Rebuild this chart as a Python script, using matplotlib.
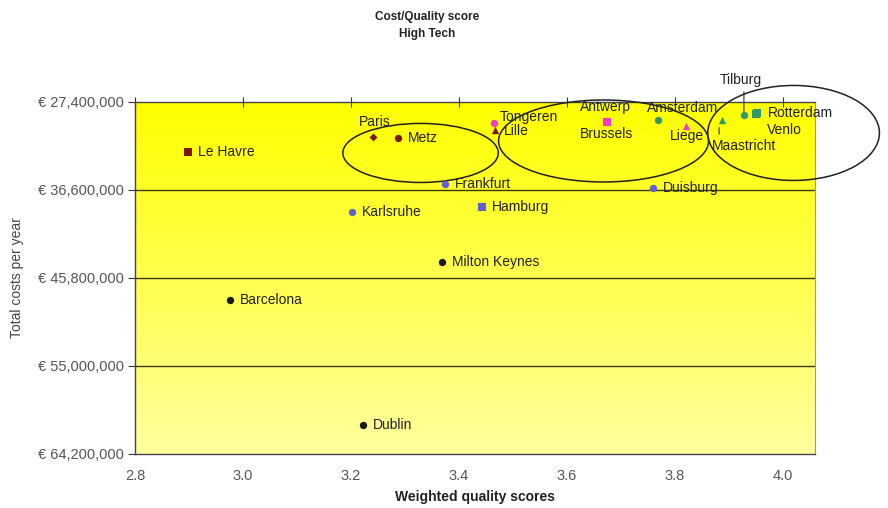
import numpy as np
import matplotlib.pyplot as plt
from matplotlib.patches import Ellipse
from matplotlib.ticker import FuncFormatter

plt.rcParams['font.family'] = ['Liberation Sans', 'DejaVu Sans']

# locations: quality score (x) and total yearly cost in millions of euro (y)
cities = ["Le Havre", "Paris", "Metz", "Lille",
          "Tongeren", "Antwerp", "Brussels", "Liege",
          "Amsterdam", "Maastricht", "Tilburg", "Rotterdam", "Venlo",
          "Frankfurt", "Duisburg", "Karlsruhe", "Hamburg",
          "Milton Keynes", "Barcelona", "Dublin"]
quality = [2.898, 3.241, 3.287, 3.467,
           3.465, 3.672, 3.674, 3.820,
           3.769, 3.887, 3.928, 3.952, 3.950,
           3.374, 3.759, 3.202, 3.443,
           3.369, 2.976, 3.222]
cost_m = [32.63, 31.06, 31.16, 30.33,
          29.60, 29.38, 29.49, 29.91,
          29.28, 29.28, 28.76, 28.55, 28.65,
          35.97, 36.39, 38.90, 38.38,
          44.13, 48.10, 61.17]

brown, pink, green, blue, black = "#7a1a00", "#f03cc8", "#2e9a6a", "#6060d0", "#1a1a1a"
colors = [brown] * 4 + [pink] * 4 + [green] * 5 + [blue] * 4 + [black] * 3
markers = ["s", "D", "o", "^",
           "o", "o", "s", "^",
           "o", "^", "o", "s", "s",
           "o", "o", "o", "s",
           "o", "o", "o"]

# label offsets in pixels (dx, dy) and horizontal alignment
offsets = {
    "Paris": (2, 15, "center"), "Tongeren": (6, 6, "left"),
    "Lille": (9, -1, "left"), "Antwerp": (0, 14, "center"),
    "Brussels": (0, -12, "center"), "Amsterdam": (-11, 12, "left"),
    "Liege": (-16, -10, "left"), "Maastricht": (-10, -26, "left"),
    "Tilburg": (-3, 35, "center"), "Rotterdam": (11, 0, "left"),
    "Venlo": (11, -16, "left"),
}

y_ticks = [27.4, 36.6, 45.8, 55.0, 64.2]
x_ticks = [2.8, 3.0, 3.2, 3.4, 3.6, 3.8, 4.0]

fig = plt.figure(figsize=(8.88, 5.08), dpi=100)
ax = fig.add_axes([0.152, 0.1063, 0.766, 0.693])

# yellow gradient background
grad = np.linspace(0, 1, 256).reshape(-1, 1)
top = np.array([1.0, 1.0, 0.0])
bot = np.array([1.0, 1.0, 0.62])
img = top + grad[..., None] * (bot - top)
ax.imshow(img, extent=[2.8, 4.06, 64.2, 27.4], aspect="auto", zorder=0)

ax.set_xlim(2.8, 4.06)
ax.set_ylim(64.2, 27.4)

for y in y_ticks[1:-1]:
    ax.axhline(y, color="#3a3a10", lw=1.0, zorder=1)

for x, y, c, m in zip(quality, cost_m, colors, markers):
    ax.scatter(x, y, s=28 if m != "D" else 16, c=c, marker=m, zorder=4, linewidths=0)

for name, x, y in zip(cities, quality, cost_m):
    dx, dy, ha = offsets.get(name, (10, 0, "left"))
    ax.annotate(name, (x, y), xytext=(dx, dy), textcoords="offset pixels",
                ha=ha, va="center", fontsize=10, color="#222222", zorder=5,
                annotation_clip=False)

# leader lines for the crowded Dutch labels
ax.annotate("", (3.928, 28.76), xytext=(0, 26), textcoords="offset pixels",
            arrowprops=dict(arrowstyle="-", color="#333333", lw=0.8),
            annotation_clip=False)
ax.annotate("", (3.882, 29.8), xytext=(0, -12), textcoords="offset pixels",
            arrowprops=dict(arrowstyle="-", color="#333333", lw=0.8))

# grouping ellipses
groups = [((3.329, 32.73), 0.288, 6.17),
          ((3.668, 31.48), 0.389, 8.57),
          ((4.020, 30.64), 0.318, 9.93)]
for (cx, cy), w, h in groups:
    ax.add_patch(Ellipse((cx, cy), w, h, fill=False, ec="#222222", lw=1.1,
                         zorder=3, clip_on=False))

ax.set_yticks(y_ticks)
ax.yaxis.set_major_formatter(FuncFormatter(lambda v, p: "\u20ac {:,.0f}".format(v * 1e6)))
ax.set_xticks(x_ticks)
ax.xaxis.set_major_formatter(FuncFormatter(lambda v, p: "{:.1f}".format(v)))
ax.tick_params(axis="y", direction="out", length=5, color="#333333",
               labelsize=10.5, labelcolor="#555555", pad=3)
ax.tick_params(axis="x", direction="inout", length=7, color="#333333",
               labelsize=10.5, labelcolor="#555555", pad=7,
               top=True, bottom=False, labeltop=False, labelbottom=True)

for side in ["left", "top", "bottom"]:
    ax.spines[side].set_color("#444444")
    ax.spines[side].set_linewidth(1.0)
ax.spines["right"].set_color("#999999")

ax.set_xlabel("Weighted quality scores", fontsize=10, fontweight="bold",
              color="#222222", labelpad=5)
ax.set_ylabel("Total costs per year", fontsize=10, color="#444444", labelpad=10)

fig.text(0.481, 0.95, "Cost/Quality score\nHigh Tech", ha="center", va="center",
         fontsize=8.5, fontweight="bold", color="#222222", linespacing=1.6)

fig.savefig("out.png", dpi=100)
